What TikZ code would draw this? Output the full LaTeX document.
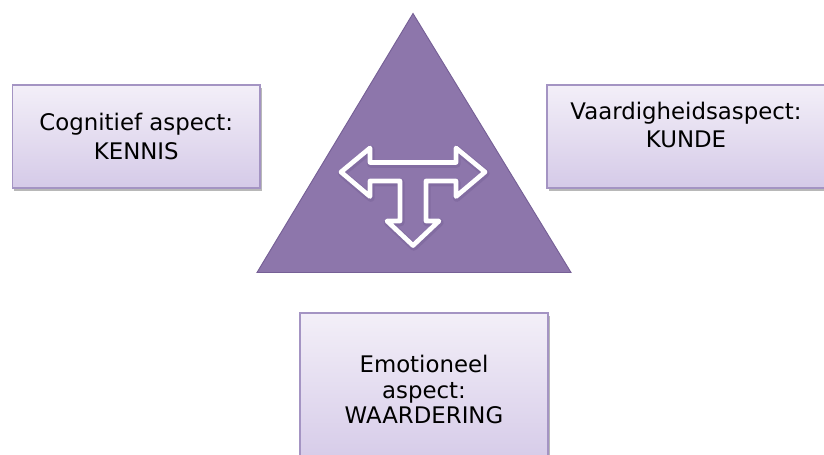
\documentclass[tikz,border=0pt]{standalone}
\usepackage{fontspec}
\setmainfont{DejaVu Sans}
\usetikzlibrary{shadows}
\definecolor{driehoek}{RGB}{141,118,171}
\definecolor{driehoekrand}{RGB}{118,96,150}
\definecolor{vaklicht}{RGB}{243,239,248}
\definecolor{vakdonker}{RGB}{213,202,232}
\definecolor{vakrand}{RGB}{164,148,195}

\begin{document}
\begin{tikzpicture}
[x=0.03cm,y=-0.03cm,
aspect/.style = {draw=vakrand, line width=1.1pt, top color=vaklicht, bottom color=vakdonker,
  drop shadow={shadow xshift=1.6pt, shadow yshift=-2.2pt, fill=black, opacity=.28},
  align=center, inner sep=0pt, font=\fontsize{19.5}{24.5}\selectfont},
aspecttekst/.style = {align=center, inner sep=0pt, font=\fontsize{19.5}{24.5}\selectfont},
pijl/.style = {draw=white, line width=4pt, line join=round},
pijlschaduw/.style = {draw=driehoekrand, line width=6.5pt, line join=round, opacity=.45},]
\useasboundingbox (0,0) rectangle (824,454);

% driehoek
\coordinate (top) at (413,13.5);
\coordinate (links) at (257,272.5);
\coordinate (rechts) at (571,272.5);
\fill[driehoek, draw=driehoekrand, line width=0.8pt] (top)--(links)--(rechts)--cycle;

% T-pijl
\draw[pijlschaduw, shift={(0.8,1.5)}] (341,172)--(370,148)--(370,162.5)--(456,162.5)--(456,148)--(485,172)
  --(456,196.5)--(456,181)--(426,181)--(426,221)--(439,221)--(413,245.5)--(387,221)--(400,221)
  --(400,181)--(370,181)--(370,196.5)--cycle;
\draw[pijl] (341,172)--(370,148)--(370,162.5)--(456,162.5)--(456,148)--(485,172)
  --(456,196.5)--(456,181)--(426,181)--(426,221)--(439,221)--(413,245.5)--(387,221)--(400,221)
  --(400,181)--(370,181)--(370,196.5)--cycle;

% vakken
\node (kennis) at (136.25,136.5)[aspect, minimum width=7.425cm, minimum height=3.09cm]
  {Cognitief aspect:\\KENNIS};
\node (kunde) at (686.5,136.5)[aspect, minimum width=8.37cm, minimum height=3.09cm] {};
\node (kundetekst) at (686,125)[aspecttekst] {Vaardigheidsaspect:\\KUNDE};
\node (waardering) at (424,389.5)[aspect, minimum width=7.44cm, minimum height=4.59cm,
  font=\fontsize{19.5}{21.8}\selectfont] {Emotioneel\\aspect:\\WAARDERING};

\end{tikzpicture}
\end{document}
